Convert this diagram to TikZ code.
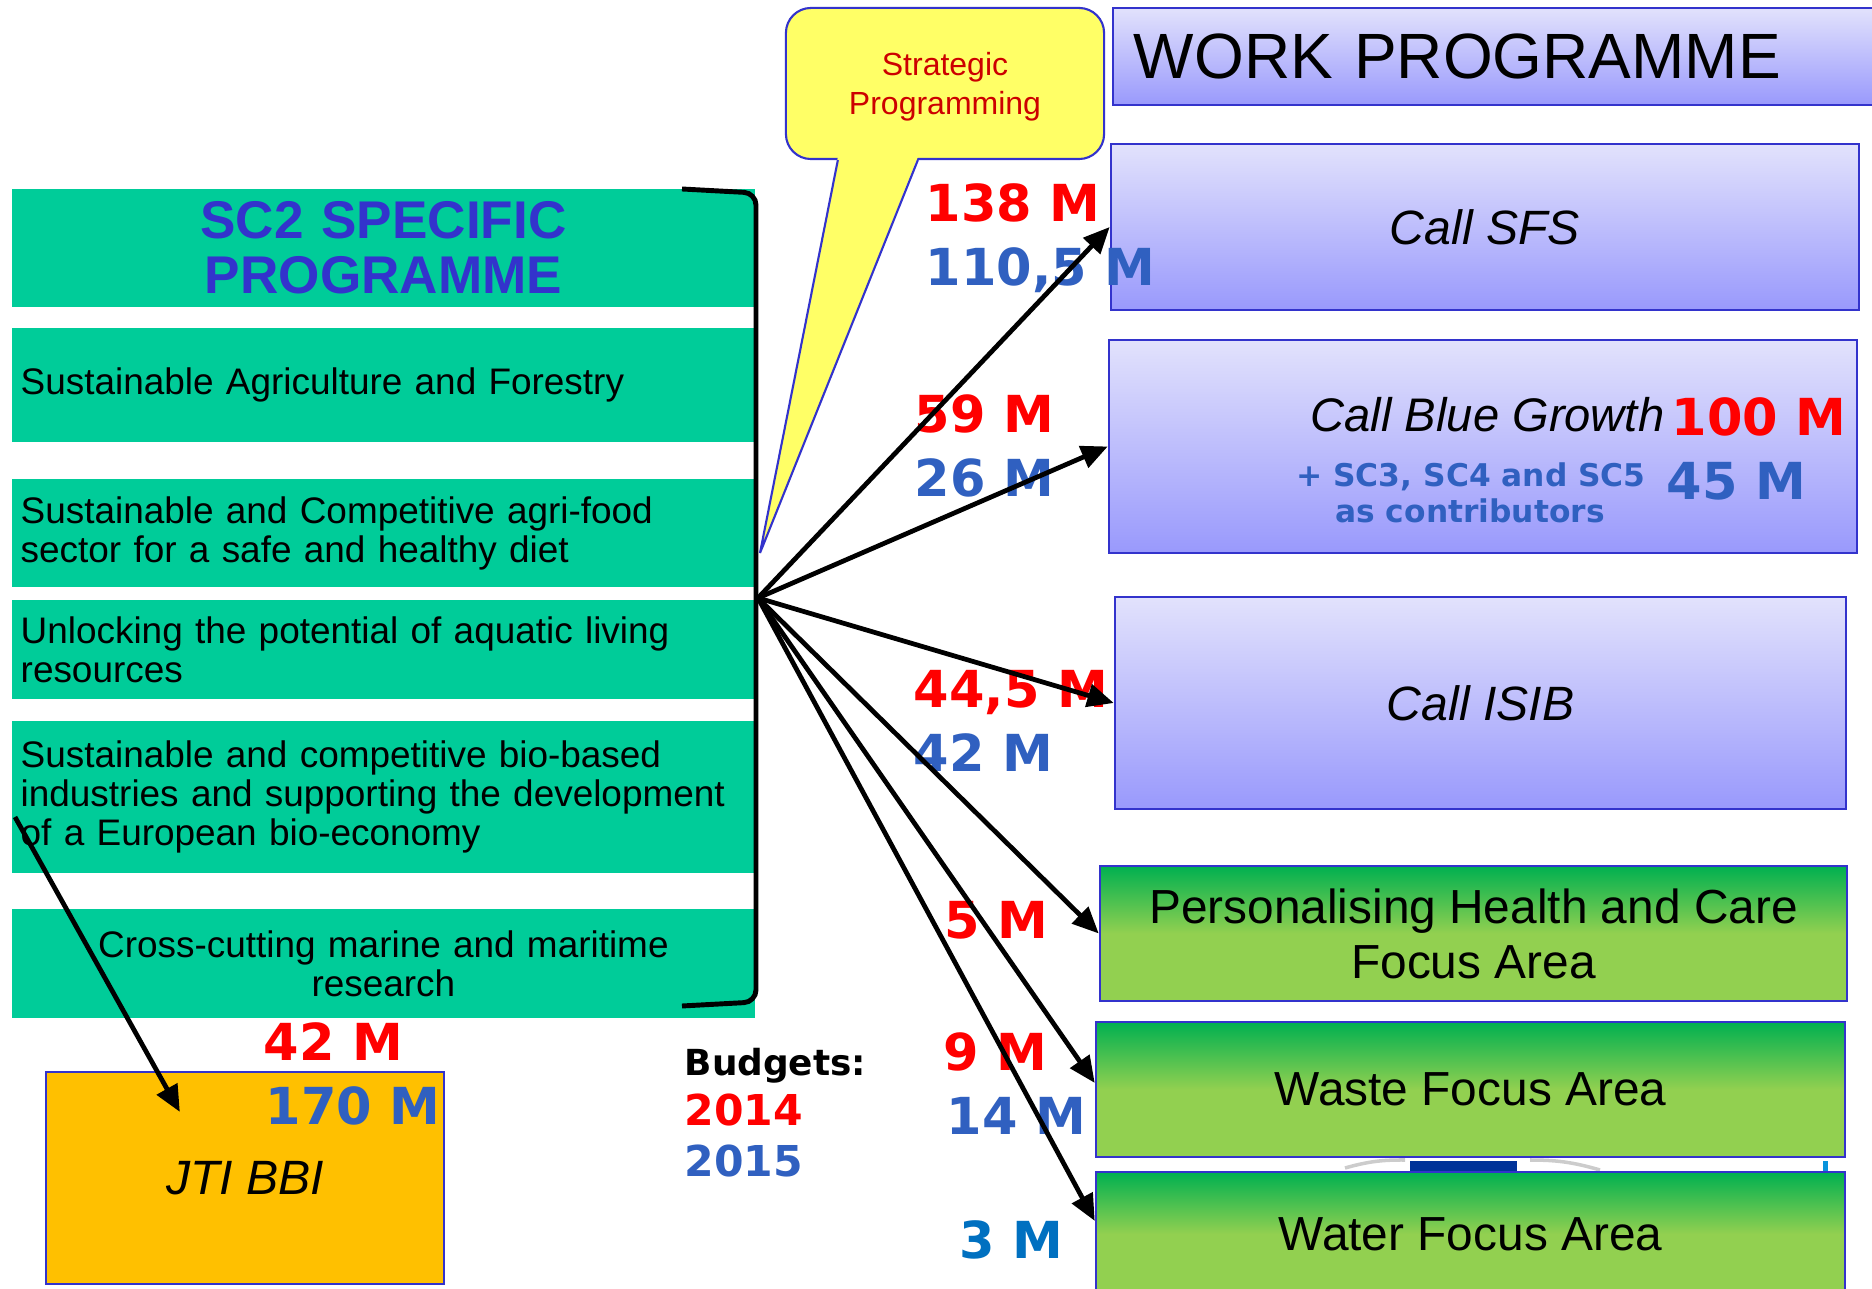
\documentclass[tikz,border=0pt]{standalone}
\usepackage{fontspec}
\setmainfont{Liberation Sans}
\newfontfamily\numfont{DejaVu Sans}
\usetikzlibrary{arrows.meta,calc}

\definecolor{sctea}{RGB}{0,204,153}
\definecolor{frame}{RGB}{51,51,204}
\definecolor{lavtop}{RGB}{226,226,252}
\definecolor{lavbot}{RGB}{153,153,252}
\definecolor{grtop}{RGB}{0,176,80}
\definecolor{grbot}{RGB}{146,208,80}
\definecolor{jtiorange}{RGB}{255,192,0}
\definecolor{stickyyellow}{RGB}{255,255,102}
\definecolor{stickyred}{RGB}{204,0,0}
\definecolor{mred}{RGB}{255,0,0}
\definecolor{mblue}{RGB}{48,96,192}
\definecolor{mblueb}{RGB}{0,112,192}
\definecolor{euflag}{RGB}{0,51,153}

\tikzset{
    tealbox/.style={fill=sctea, anchor=west, text width=7.25cm, inner xsep=0.09cm, align=left,
        font=\fontsize{10.5}{11.1}\selectfont},
    callbox/.style={draw=frame, line width=0.6pt, top color=lavtop, bottom color=lavbot,
        font=\itshape\fontsize{13.7}{15.6}\selectfont},
    focusbox/.style={draw=frame, line width=0.6pt, top color=grtop, bottom color=grbot, middle color=grbot,
        align=center, font=\fontsize{13.6}{15.6}\selectfont},
    sticky/.style={draw=frame, line width=0.6pt, fill=stickyyellow, rounded corners=0.25cm, align=center,
        text=stickyred, font=\fontsize{9.1}{11.1}\selectfont},
    money/.style={anchor=base west, inner sep=0, font=\numfont\bfseries\fontsize{14.5}{16}\selectfont},
    bracket/.style={line width=1.4pt, rounded corners=0.12cm},
    conn/.style={line width=1.35pt, -{Triangle[length=7.5pt,width=6.5pt]}}
}

\begin{document}
\begin{tikzpicture}[x=0.01cm,y=-0.01cm]
    \useasboundingbox (0,0) rectangle (1872,1289);

    % specific programme
    \node[tealbox, align=center, text=frame, minimum height=1.18cm,
        font=\bfseries\fontsize{15.1}{15.6}\selectfont] (sc2) at (11,248) {SC2 SPECIFIC\\PROGRAMME};
    \node[tealbox, minimum height=1.14cm] (agri) at (11,385) {Sustainable Agriculture and Forestry};
    \node[tealbox, minimum height=1.08cm] (food) at (11,533) {Sustainable and Competitive agri-food\\sector for a safe and healthy diet};
    \node[tealbox, minimum height=0.99cm] (aqua) at (11,649.5) {Unlocking the potential of aquatic living\\resources};
    \node[tealbox, minimum height=1.52cm] (bio) at (11,797) {Sustainable and competitive bio-based\\industries and supporting the development\\of a European bio-economy};
    \node[tealbox, align=center, minimum height=1.09cm] (marine) at (11,963.5) {Cross-cutting marine and maritime\\research};
    \draw[bracket] (682,189) -- (756,193) -- (756,1002) -- (682,1006);
    \coordinate (hub) at (758,598);

    % callout
    \node[sticky, minimum width=3.18cm, minimum height=1.51cm, text depth=0pt] (strat) at (945,83.5) {Strategic\\Programming};
    \coordinate (tip) at (760,553);
    \fill[stickyyellow] ($(strat.south west)+(53,-3)$) -- (tip) -- ($(strat.south west)+(133,-3)$) -- cycle;
    \draw[frame, line width=0.6pt] ($(strat.south west)+(53,0)$) -- (tip) -- ($(strat.south west)+(133,0)$);

    % work programme
    \node[callbox, font=\fontsize{18.2}{20}\selectfont, text width=7.35cm, inner xsep=0.21cm, align=left,
        minimum height=0.97cm] (wp) at (1501.5,56.5) {WORK PROGRAMME};
    \node[callbox, minimum width=7.48cm, minimum height=1.66cm] (sfs) at (1485,227) {Call SFS};
    \node[callbox, minimum width=7.48cm, minimum height=2.13cm] (blue) at (1483,446.5) {};
    \node[callbox, minimum width=7.31cm, minimum height=2.12cm] (isib) at (1480.5,703) {Call ISIB};

    % EU logo peeking out
    \draw[black!20, line width=1pt] (1345,1168) to[bend left=8] (1405,1160);
    \draw[black!20, line width=1pt] (1530,1160) to[bend left=8] (1600,1170);
    \fill[euflag] (1410,1161) rectangle (1517,1175);
    \fill[cyan!80!blue] (1823,1161) rectangle (1828,1180);

    \node[focusbox, minimum width=7.47cm, minimum height=1.35cm] (health) at (1473.5,933.5) {Personalising Health and Care\\Focus Area};
    \node[focusbox, minimum width=7.49cm, minimum height=1.35cm] (waste) at (1470.5,1089.5) {Waste Focus Area};
    \node[focusbox, minimum width=7.49cm, minimum height=1.24cm] (water) at (1470.5,1234) {Water Focus Area};

    \node[draw=frame, line width=0.6pt, fill=jtiorange, minimum width=3.98cm, minimum height=2.12cm,
        font=\itshape\fontsize{13.7}{15.6}\selectfont] (jti) at (245,1178) {JTI BBI};

    % blue growth texts
    \node[anchor=base east, inner sep=0, font=\itshape\fontsize{13.4}{15.6}\selectfont] (bgname) at (1665,432) {Call Blue Growth};
    \node[money, text=mred] (bg14) at (1671,436) {100 M};
    \node[money, text=mblue] (bg15) at (1666,500) {45 M};
    \node[anchor=base, inner sep=0, text=mblue, font=\numfont\bfseries\fontsize{8.9}{10.2}\selectfont] (contriba) at (1471,487) {+ SC3, SC4 and SC5};
    \node[anchor=base, inner sep=0, text=mblue, font=\numfont\bfseries\fontsize{8.9}{10.2}\selectfont] (contribb) at (1470,523) {as contributors};

    % budgets
    \node[money, text=mred] (sfs14) at (925,222) {138 M};
    \node[money, text=mblue] (sfs15) at (925,286) {110,5 M};
    \node[money, text=mred] (blue14) at (914,433) {59 M};
    \node[money, text=mblue] (blue15) at (914,497) {26 M};
    \node[money, text=mred] (isib14) at (913,708) {44,5 M};
    \node[money, text=mblue] (isib15) at (913,772) {42 M};
    \node[money, text=mred] (health14) at (944,939) {5 M};
    \node[money, text=mred] (waste14) at (943,1071) {9 M};
    \node[money, text=mblue] (waste15) at (946,1135) {14 M};
    \node[money, text=mblueb] (water15) at (959,1259) {3 M};
    \node[money, text=mred] (jti14) at (263,1061) {42 M};
    \node[money, text=mblue] (jti15) at (265,1125) {170 M};

    \node[money, font=\numfont\bfseries\fontsize{10.2}{12}\selectfont] (legend) at (684,1076) {Budgets:};
    \node[money, text=mred, font=\numfont\bfseries\fontsize{12.1}{14}\selectfont] (legend14) at (684,1126) {2014};
    \node[money, text=mblue, font=\numfont\bfseries\fontsize{12.1}{14}\selectfont] (legend15) at (684,1177) {2015};

    % arrows
    \draw[conn] (hub) -- (sfs.west);
    \draw[conn] (hub) -- (blue.west);
    \draw[conn] (hub) -- (isib.west);
    \draw[conn] (hub) -- (health.west);
    \draw[conn] (hub) -- (waste.179);
    \draw[conn] (hub) -- (water.178);
    \coordinate (bbistart) at (15,817);
    \coordinate (bbiend) at ($(jti.north west)+(135,41)$);
    \draw[conn] (bbistart) -- (bbiend);
\end{tikzpicture}
\end{document}
